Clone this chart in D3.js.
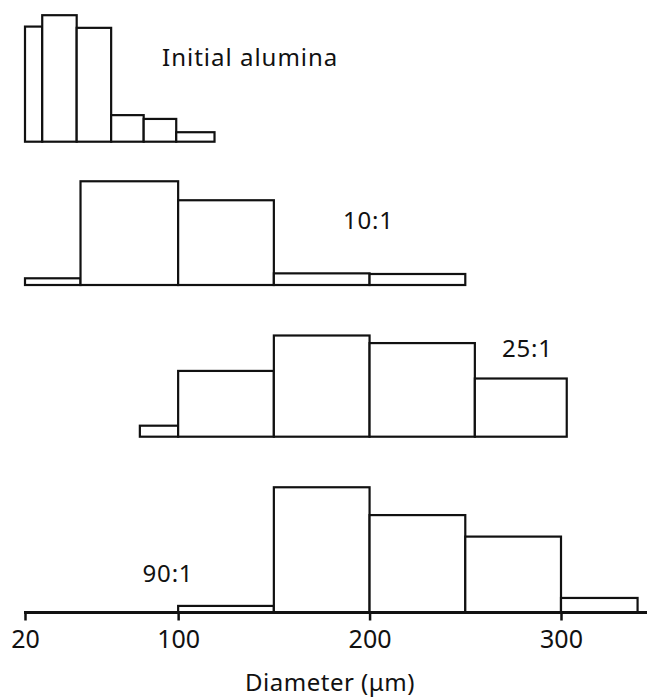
<!DOCTYPE html>
<html>
<head>
<meta charset="utf-8">
<script src="https://cdn.jsdelivr.net/npm/d3@7"></script>
<style>
  html, body { margin: 0; padding: 0; background: #fff; }
  svg { display: block; }
  text { font-family: "Noto Sans", "DejaVu Sans", sans-serif; fill: #111; }
</style>
</head>
<body>
<svg id="chart" width="647" height="699"></svg>
<script>
// ── Data ─────────────────────────────────────────────────────────
const panelLabels   = ["Initial alumina", "10:1", "25:1", "90:1"];

const initialEdges  = [20, 29, 47, 65, 82, 99, 119];
const initialFreq   = [91, 100, 90, 21, 18, 7.5];

const ratio10Edges  = [20, 49, 100, 150, 200, 250];
const ratio10Freq   = [5.3, 82, 67, 9.2, 8.7];

const ratio25Edges  = [80, 100, 150, 200, 255, 303];
const ratio25Freq   = [8.7, 52, 80, 74, 46];

const ratio90Edges  = [100, 150, 200, 250, 300, 340];
const ratio90Freq   = [5.2, 99, 77, 60, 11.5];

const tickValues    = [20, 100, 200, 300];
const axisTitle     = "Diameter (\u03bcm)";

// ── Layout ───────────────────────────────────────────────────────
const W = 647, H = 699;
const baselines   = [141.7, 285, 436.7, 612.5];
const labelPos    = [
  { x: 162, y: 57,  anchor: "start",  ls: 1 },
  { x: 343, y: 220, anchor: "start",  ls: 0.8 },
  { x: 502, y: 348, anchor: "start",  ls: 0.8 },
  { x: 168, y: 573, anchor: "middle", ls: 0.8 }
];

const x = d3.scaleLinear().domain([20, 300]).range([25, 561]);
const h = d3.scaleLinear().domain([0, 100]).range([0, 126.5]);

const svg = d3.select("#chart");

const series = [
  { edges: initialEdges, freq: initialFreq },
  { edges: ratio10Edges, freq: ratio10Freq },
  { edges: ratio25Edges, freq: ratio25Freq },
  { edges: ratio90Edges, freq: ratio90Freq }
];

// ── Histograms ───────────────────────────────────────────────────
series.forEach((s, i) => {
  const bins = s.freq.map((f, j) => ({ x0: s.edges[j], x1: s.edges[j + 1], f }));
  const g = svg.append("g").attr("transform", `translate(0,${baselines[i]})`);

  g.selectAll("rect")
    .data(bins)
    .join("rect")
    .attr("x", d => x(d.x0))
    .attr("width", d => x(d.x1) - x(d.x0))
    .attr("y", d => -h(d.f))
    .attr("height", d => h(d.f))
    .attr("fill", "#fff")
    .attr("stroke", "#111")
    .attr("stroke-width", 2.2);

  svg.append("text")
    .attr("x", labelPos[i].x)
    .attr("y", labelPos[i].y)
    .attr("dy", "0.36em")
    .attr("text-anchor", labelPos[i].anchor)
    .style("font-size", "24px")
    .style("letter-spacing", labelPos[i].ls + "px")
    .text(panelLabels[i]);
});

// ── Axis ─────────────────────────────────────────────────────────
const axisG = svg.append("g")
  .attr("transform", `translate(0,${baselines[3]})`)
  .call(d3.axisBottom(x).tickValues(tickValues).tickSize(8).tickPadding(10));

axisG.select(".domain").remove();
axisG.selectAll(".tick line").attr("stroke", "#111").attr("stroke-width", 2.5);
axisG.selectAll(".tick text")
  .style("font-size", "25px")
  .style("font-family", "'Noto Sans', 'DejaVu Sans', sans-serif")
  .attr("fill", "#111");

axisG.append("line")
  .attr("x1", x(20) - 1)
  .attr("x2", W)
  .attr("stroke", "#111")
  .attr("stroke-width", 3);

svg.append("text")
  .attr("x", 330)
  .attr("y", 682)
  .attr("dy", "0.36em")
  .attr("text-anchor", "middle")
  .style("font-size", "24px")
  .style("letter-spacing", "0.5px")
  .text(axisTitle);
</script>
</body>
</html>
